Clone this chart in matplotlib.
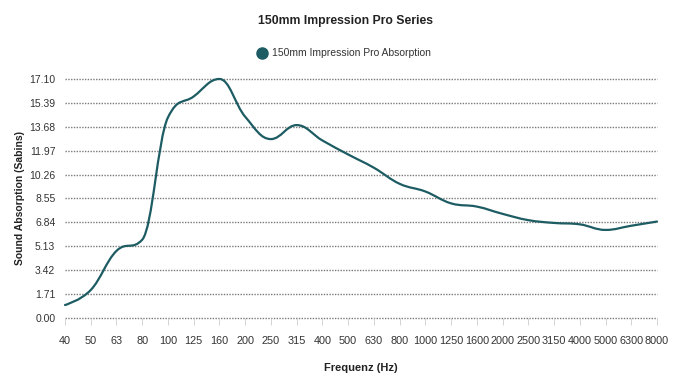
import numpy as np
import matplotlib
matplotlib.use("Agg")
import matplotlib.pyplot as plt
from matplotlib.path import Path
from matplotlib.patches import PathPatch
from matplotlib.lines import Line2D

plt.rcParams["font.family"] = ["Liberation Sans", "DejaVu Sans"]

frequencies = ["40", "50", "63", "80", "100", "125", "160", "200", "250", "315",
               "400", "500", "630", "800", "1000", "1250", "1600", "2000", "2500",
               "3150", "4000", "5000", "6300", "8000"]
absorption = [0.93, 2.0, 4.8, 5.6, 14.35, 15.85, 17.1, 14.4, 12.8, 13.8,
              12.7, 11.7, 10.75, 9.6, 9.05, 8.2, 7.97, 7.45, 7.0,
              6.8, 6.7, 6.3, 6.6, 6.9]
y_ticks = [0.00, 1.71, 3.42, 5.13, 6.84, 8.55, 10.26, 11.97, 13.68, 15.39, 17.10]

LINE = "#1d5c63"


def spline_path(xs, ys, smoothing=1.5):
    """Bezier path through the points, smoothed like a charting spline."""
    denom = smoothing + 1
    n = len(xs)
    left, right = [], []
    for i in range(n):
        x, y = xs[i], ys[i]
        if i == 0 or i == n - 1:
            left.append((x, y))
            right.append((x, y))
            continue
        lx, ly = xs[i - 1], ys[i - 1]
        nx, ny = xs[i + 1], ys[i + 1]
        lcx = (smoothing * x + lx) / denom
        lcy = (smoothing * y + ly) / denom
        rcx = (smoothing * x + nx) / denom
        rcy = (smoothing * y + ny) / denom
        corr = (rcy - lcy) * (rcx - x) / (rcx - lcx) + y - rcy
        lcy += corr
        rcy += corr
        if lcy > ly and lcy > y:
            lcy = max(ly, y)
            rcy = 2 * y - lcy
        elif lcy < ly and lcy < y:
            lcy = min(ly, y)
            rcy = 2 * y - lcy
        if rcy > ny and rcy > y:
            rcy = max(ny, y)
            lcy = 2 * y - rcy
        elif rcy < ny and rcy < y:
            rcy = min(ny, y)
            lcy = 2 * y - rcy
        left.append((lcx, lcy))
        right.append((rcx, rcy))
    verts = [(xs[0], ys[0])]
    codes = [Path.MOVETO]
    for i in range(1, n):
        verts += [right[i - 1], left[i], (xs[i], ys[i])]
        codes += [Path.CURVE4] * 3
    return Path(verts, codes)


fig = plt.figure(figsize=(6.9, 3.81), dpi=100)
ax = fig.add_axes([0.0942, 0.1654, 0.858, 0.6273])

x = np.arange(len(frequencies))
ax.add_patch(PathPatch(spline_path(list(x), absorption), facecolor="none",
                       edgecolor=LINE, linewidth=1.6, clip_on=False,
                       capstyle="round", joinstyle="round"))

ax.set_xlim(0, len(frequencies) - 1)
ax.set_ylim(0, 17.1)
ax.set_yticks(y_ticks)
ax.set_yticklabels([f"{v:.2f}" for v in y_ticks])
ax.set_xticks(x)
ax.set_xticklabels(frequencies)
for v in y_ticks:
    ax.axhline(v, color="#7a7a7a", linewidth=1.0, linestyle=(0, (1, 1)),
               zorder=0, clip_on=False)

for s in ax.spines.values():
    s.set_visible(False)
ax.tick_params(axis="y", length=0, pad=7, labelsize=7.5, labelcolor="#333333")
ax.tick_params(axis="x", length=5, width=0.6, color="#cccccc", pad=8,
               labelsize=7.8, labelcolor="#333333")

ax.set_xlabel("Frequenz (Hz)", fontsize=8, fontweight="bold", labelpad=12,
              color="#222222")
ax.set_ylabel("Sound Absorption (Sabins)", fontsize=7.5, fontweight="bold",
              labelpad=3, color="#222222")

fig.text(0.5, 0.946, "150mm Impression Pro Series", ha="center", va="center",
         fontsize=8.8, fontweight="bold", color="#222222")
fig.add_artist(Line2D([262 / 690], [0.861], marker="o", markersize=8,
                      color=LINE, linestyle="none",
                      transform=fig.transFigure))
fig.text(272 / 690, 0.861, "150mm Impression Pro Absorption", ha="left",
         va="center", fontsize=7.5, color="#333333")

fig.savefig("out.png", dpi=100)
